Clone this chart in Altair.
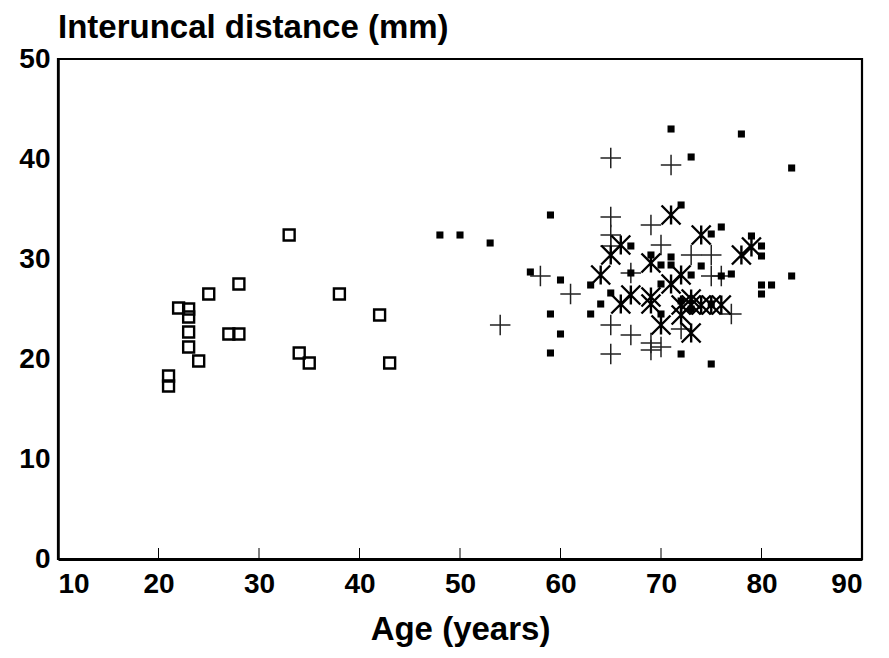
import altair as alt
import pandas as pd

# Open squares (young subjects)
sq_age = [21, 21, 22, 23, 23, 23, 23, 24, 25, 27, 28, 28, 33, 34, 35, 38, 42, 43]
sq_val = [18.3, 17.3, 25.1, 25.0, 24.2, 22.7, 21.2, 19.8, 26.5, 22.5, 22.5, 27.5, 32.4, 20.6, 19.6, 26.5, 24.4, 19.6]

# Small filled markers
fd_age = [48, 50, 53, 57, 59, 59, 59, 60, 60, 63, 63, 64, 65, 67, 67, 69, 70, 70, 70, 71, 71, 71,
          72, 72, 73, 73, 74, 75, 75, 76, 76, 77, 78, 79, 80, 80, 80, 80, 81, 83, 83, 73, 75, 72]
fd_val = [32.4, 32.4, 31.6, 28.7, 34.4, 24.5, 20.6, 27.9, 22.5, 27.4, 24.5, 25.5, 26.6, 31.3, 28.6, 30.4, 29.4, 27.5, 24.5, 43.0, 30.2, 29.4,
          35.4, 20.5, 40.2, 28.4, 29.3, 32.5, 19.5, 33.2, 28.3, 28.5, 42.5, 32.3, 31.3, 30.3, 27.4, 26.5, 27.4, 39.1, 28.3, 25.0, 25.5, 25.8]

# Plus signs
pl_age = [54, 58, 61, 65, 65, 65, 65, 65, 65, 67, 67, 69, 69, 70, 70, 71, 73, 75, 75, 76, 77, 72, 69]
pl_val = [23.4, 28.3, 26.5, 40.1, 34.2, 32.4, 31.3, 23.4, 20.5, 28.6, 22.4, 33.4, 21.6, 31.4, 21.2, 39.4, 30.4, 30.4, 28.3, 28.3, 24.5, 23.0, 20.9]

# Asterisks
as_age = [64, 65, 66, 66, 67, 69, 69, 69, 70, 71, 71, 72, 72, 72, 73, 73, 74, 74, 75, 76, 78, 79, 73]
as_val = [28.4, 30.4, 31.4, 25.5, 26.4, 29.6, 26.2, 25.5, 23.4, 34.4, 27.5, 28.4, 25.4, 24.4, 22.6, 25.4, 32.4, 25.4, 25.4, 25.4, 30.4, 31.2, 26.0]

x_ticks = [10, 20, 30, 40, 50, 60, 70, 80, 90]
y_ticks = [0, 10, 20, 30, 40, 50]

FONT = "Liberation Sans"

sq = pd.DataFrame({"age": sq_age, "val": sq_val})
fd = pd.DataFrame({"age": fd_age, "val": fd_val})
pl = pd.DataFrame({"age": pl_age, "val": pl_val})
ast = pd.DataFrame({"age": as_age, "val": as_val})
tk = pd.DataFrame({"age": x_ticks[1:-1], "y0": 0, "y1": 1.1})

xs = alt.Scale(domain=[x_ticks[0], x_ticks[-1]], nice=False, zero=False)
ys = alt.Scale(domain=[y_ticks[0], y_ticks[-1]], nice=False)

xax = alt.Axis(values=x_ticks, title="Age (years)", grid=False, ticks=False,
               domain=True, domainColor="black", domainWidth=3,
               labelFont=FONT, labelFontSize=28, labelFontWeight="bold", labelColor="black",
               labelPadding=11, titleFont=FONT, titleFontSize=33, titleFontWeight="bold",
               titleColor="black", titlePadding=15)
yax = alt.Axis(values=y_ticks, title=None, grid=False, ticks=False,
               domain=True, domainColor="black", domainWidth=2.5,
               labelFont=FONT, labelFontSize=28, labelFontWeight="bold", labelColor="black",
               labelPadding=8)

base_x = alt.X("age:Q", scale=xs, axis=xax)
base_y = alt.Y("val:Q", scale=ys, axis=yax)

l_sq = alt.Chart(sq).mark_point(shape="square", size=120, filled=False, stroke="black",
                                strokeWidth=2.4, opacity=1).encode(x=base_x, y=base_y)
l_fd = alt.Chart(fd).mark_point(shape="square", size=50, filled=True, fill="black",
                                strokeWidth=0, opacity=1).encode(x="age:Q", y="val:Q")
l_pl = alt.Chart(pl).mark_point(shape="M-1,0L1,0M0,-1L0,1", size=420, filled=False,
                                stroke="#222222", strokeWidth=1.5, opacity=1).encode(x="age:Q", y="val:Q")
l_as = alt.Chart(ast).mark_point(shape="M-1,-1L1,1M-1,1L1,-1M0,-1L0,1", size=360, filled=False,
                                 stroke="black", strokeWidth=2.4, opacity=1).encode(x="age:Q", y="val:Q")
l_tk = alt.Chart(tk).mark_rule(color="black", strokeWidth=1).encode(x="age:Q", y="y0:Q", y2="y1:Q")

chart = alt.layer(l_tk, l_sq, l_pl, l_as, l_fd).properties(
    width=804, height=500,
    autosize=alt.AutoSizeParams(type="none"),
    padding={"left": 50, "top": 51, "right": 19, "bottom": 91},
    title=alt.TitleParams("Interuncal distance (mm)", anchor="start", frame="group",
                          font=FONT, fontSize=33, fontWeight="bold", color="black", offset=0)
).configure(background="white").configure_view(stroke="black", strokeWidth=2.2)

chart.save("out.html", embed_options={"renderer": "svg", "actions": False})
